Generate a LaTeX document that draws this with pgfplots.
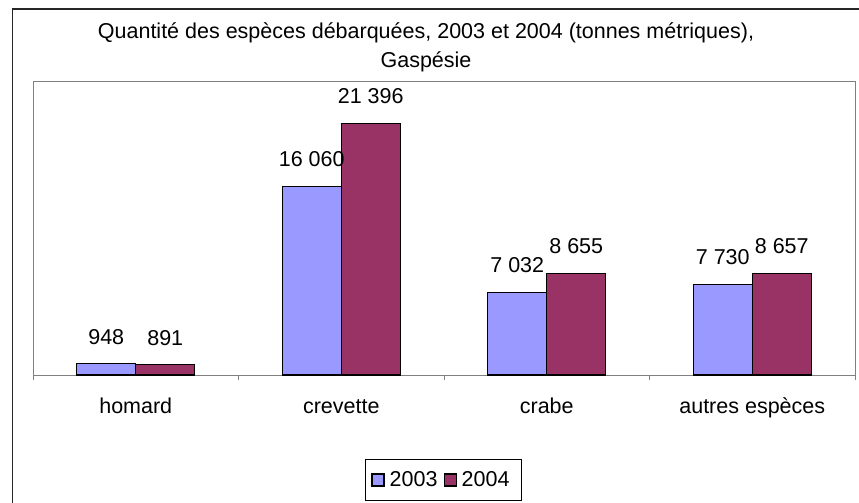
\documentclass[border=0pt]{standalone}
\usepackage{pgfplots}
\pgfplotsset{compat=1.18}
\usepackage{fontspec}
\setmainfont{Liberation Sans}
\definecolor{xlblue}{HTML}{9999FF}
\definecolor{xlplum}{HTML}{993366}
\definecolor{xlgray}{HTML}{808080}
\newcommand\chartfont{\fontsize{21.5bp}{25bp}\selectfont}
\begin{document}
\begin{tikzpicture}
% outer chart frame (cut off at right and bottom)
\draw[line width=1.3bp, black!85] (12.5bp,-503bp) -- (12.5bp,-9bp) -- (859bp,-9bp);
\node[anchor=base, font=\chartfont] at (426bp,-38bp)
  {Quantité des espèces débarquées, 2003 et 2004 (tonnes métriques),};
\node[anchor=base, font=\chartfont] at (426bp,-67bp) {Gaspésie};
\begin{axis}[
  at={(33bp,-375bp)}, anchor=south west,
  scale only axis, width=822bp, height=294bp,
  ybar=0pt, bar width=59bp,
  xmin=-0.5, xmax=3.5, ymin=0, ymax=25000,
  axis line style={xlgray, line width=1bp},
  xtick={0,1,2,3},
  xticklabels={homard, crevette, crabe, autres espèces},
  minor xtick={-0.5,0.5,1.5,2.5,3.5},
  xtick pos=bottom, tick align=outside,
  major tick length=0pt, minor tick length=5bp,
  minor tick style={xlgray, line width=1bp},
  ytick=\empty,
  xticklabel style={font=\chartfont, anchor=base, yshift=-38bp},
  nodes near coords, point meta=explicit symbolic,
  every node near coord/.append style={font=\chartfont, anchor=base, yshift=19.5bp},
  legend style={at={(0.4988,-0.357)}, anchor=center, draw=black, line width=0.8bp,
    font=\chartfont, legend columns=2, inner xsep=6.5bp, inner ysep=8bp,
    nodes={inner xsep=5bp, inner ysep=4bp},
    /tikz/every even column/.append style={column sep=1bp}},
  legend image code/.code={\draw[#1, line width=1.2bp, draw=black] (0bp,-6bp) rectangle (12bp,6bp);},
]
\addplot[fill=xlblue, draw=black, line width=1.2bp] coordinates {
  (0,948) [948] (1,16060) [16 060] (2,7032) [7 032] (3,7730) [7 730]};
\addplot[fill=xlplum, draw=black, line width=1.2bp] coordinates {
  (0,891) [891] (1,21396) [21 396] (2,8655) [8 655] (3,8657) [8 657]};
\legend{2003, 2004}
\end{axis}
\pgfresetboundingbox
\path[use as bounding box] (0bp,0bp) rectangle (859bp,-503bp);
\end{tikzpicture}
\end{document}
